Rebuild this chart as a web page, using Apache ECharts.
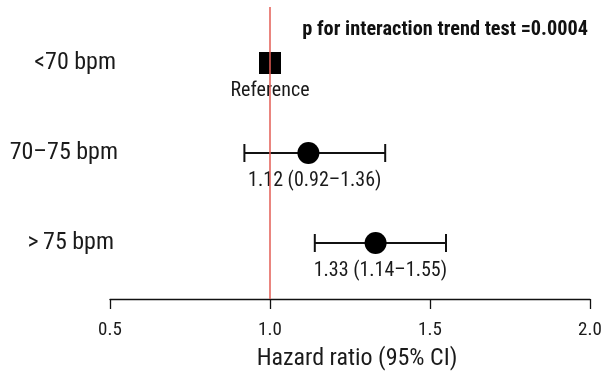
<!DOCTYPE html>
<html>
<head>
<meta charset="utf-8">
<script src="https://cdn.jsdelivr.net/npm/echarts@6/dist/echarts.min.js"></script>
<style>html,body{margin:0;padding:0;background:#fff}#c{width:605px;height:377px}</style>
</head>
<body>
<div id="c"></div>
<script>
var rowLabels = ['<70 bpm', '70\u201375 bpm', '>\u200975 bpm'];
var rowPos = [3, 2, 1];
var hr = [1.00, 1.12, 1.33];
var ciLow = [1.00, 0.92, 1.14];
var ciHigh = [1.00, 1.36, 1.55];
var annot = ['Reference', '1.12 (0.92\u20131.36)', '1.33 (1.14\u20131.55)'];
var xTicks = [0.5, 1.0, 1.5, 2.0];
var pText = 'p for interaction trend test =0.0004';
var xTitle = 'Hazard ratio (95% CI)';

var FONT = '"Roboto Condensed", "Liberation Sans", sans-serif';
var chart = echarts.init(document.getElementById('c'), null, {renderer: 'canvas'});

var ciData = rowPos.map(function (y, i) { return [ciLow[i], ciHigh[i], y, i]; });
var ptData = rowPos.map(function (y, i) {
  return {value: [hr[i], y], symbol: i === 0 ? 'rect' : 'circle'};
});
var labelPadR = [2, 0, 4];

chart.setOption({
  animation: false,
  grid: {left: 110, right: 15, top: 7, bottom: 78, containLabel: false},
  xAxis: {
    type: 'value', min: xTicks[0], max: xTicks[xTicks.length - 1], interval: 0.5,
    axisLine: {show: true, lineStyle: {color: '#111', width: 1.3}},
    axisTick: {show: true, inside: false, length: 10, lineStyle: {color: '#111', width: 1.3}},
    axisLabel: {margin: 22, fontSize: 19, fontFamily: FONT, color: '#1a1a1a',
      formatter: function (v) { return v.toFixed(1); }},
    splitLine: {show: false},
    name: xTitle, nameLocation: 'middle', nameGap: 48,
    nameTextStyle: {fontSize: 24, fontFamily: FONT, color: '#1a1a1a', padding: [0, 0, 0, 14]}
  },
  yAxis: {
    type: 'value', min: 0.3778, max: 3.6222,
    axisLine: {show: false}, axisTick: {show: false}, splitLine: {show: false},
    axisLabel: {
      show: true, customValues: rowPos, align: 'right', margin: -8,
      formatter: function (v) {
        var i = rowPos.indexOf(Math.round(v));
        return i < 0 ? '' : '{r' + i + '|' + rowLabels[i] + '}';
      },
      rich: {
        r0: {fontSize: 24, fontFamily: FONT, color: '#1a1a1a', padding: [0, labelPadR[0], 0, 0]},
        r1: {fontSize: 24, fontFamily: FONT, color: '#1a1a1a', padding: [0, labelPadR[1], 0, 0]},
        r2: {fontSize: 24, fontFamily: FONT, color: '#1a1a1a', padding: [0, labelPadR[2], 0, 0]}
      }
    }
  },
  title: {
    text: pText, right: 12, top: 15,
    textStyle: {fontSize: 20.3, fontWeight: 'bold', fontFamily: FONT, color: '#111'}
  },
  series: [
    {
      type: 'custom',
      data: ciData,
      z: 3,
      renderItem: function (params, api) {
        var lo = api.value(0), hi = api.value(1), y = api.value(2), idx = api.value(3);
        var a = api.coord([lo, y]), b = api.coord([hi, y]);
        var m = api.coord([(lo + hi) / 2, y]);
        var children = [];
        var st = {stroke: '#111', lineWidth: 2};
        if (hi > lo) {
          children.push({type: 'line', shape: {x1: a[0], y1: a[1], x2: b[0], y2: b[1]}, style: st});
          children.push({type: 'line', shape: {x1: a[0], y1: a[1] - 9, x2: a[0], y2: a[1] + 9}, style: st});
          children.push({type: 'line', shape: {x1: b[0], y1: b[1] - 9, x2: b[0], y2: b[1] + 9}, style: st});
        }
        children.push({type: 'text', x: m[0], y: m[1] + 28, style: {
          text: annot[idx], fontSize: 20, fontFamily: FONT, fill: '#1a1a1a',
          align: 'center', verticalAlign: 'middle'}});
        return {type: 'group', children: children};
      }
    },
    {
      type: 'scatter',
      data: ptData,
      symbolSize: 22,
      z: 4,
      itemStyle: {color: '#000', opacity: 1},
      markLine: {
        silent: true, symbol: 'none', label: {show: false},
        lineStyle: {color: '#e35d55', width: 1.5, type: 'solid'},
        data: [{xAxis: 1.0}]
      }
    }
  ]
});
</script>
</body>
</html>
